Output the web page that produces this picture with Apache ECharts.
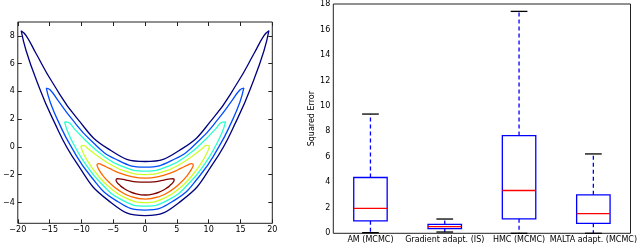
<!DOCTYPE html>
<html>
<head>
<meta charset="utf-8">
<script src="https://cdn.jsdelivr.net/npm/echarts@6/dist/echarts.min.js"></script>
<style>
html,body{margin:0;padding:0;background:#fff;}
#c{width:640px;height:246px;}
</style>
</head>
<body>
<div id="c"></div>
<script>
// ---------- Left panel: contour lines ----------
const contourColors = ['#00007f', '#004cff', '#29ffce', '#ceff29', '#ff6800', '#7f0000'];

const contour1 = [[-19.47,8.37],[-18.69,8.02],[-17.13,6.73],[-14.60,4.68],[-10.71,2.07],[-5.84,-0.12],[0,-1.05],[5.84,-0.12],[10.71,2.07],[14.60,4.68],[17.13,6.73],[18.69,8.02],[19.47,8.37],
  [18.69,6.93],[17.13,4.88],[14.60,2.11],[10.71,-1.19],[5.84,-3.83],[0,-4.95],[-5.84,-3.83],[-10.71,-1.19],[-14.60,2.11],[-17.13,4.88],[-18.69,6.93],[-19.47,8.37]];
const contour2 = [[-15.52,4.23],[-14.90,4.10],[-13.66,3.34],[-11.64,2.09],[-8.54,0.48],[-4.66,-0.87],[0,-1.45],[4.66,-0.87],[8.54,0.48],[11.64,2.09],[13.66,3.34],[14.90,4.10],[15.52,4.23],
  [14.90,3.22],[13.66,1.86],[11.64,0.04],[8.54,-2.11],[4.66,-3.83],[0,-4.55],[-4.66,-3.83],[-8.54,-2.11],[-11.64,0.04],[-13.66,1.86],[-14.90,3.22],[-15.52,4.23]];
const contour3 = [[-12.65,1.80],[-12.14,1.78],[-11.13,1.32],[-9.49,0.54],[-6.96,-0.49],[-3.80,-1.36],[0,-1.735],[3.80,-1.36],[6.96,-0.49],[9.49,0.54],[11.13,1.32],[12.14,1.78],[12.65,1.80],
  [12.14,1.07],[11.13,0.12],[9.49,-1.14],[6.96,-2.60],[3.80,-3.78],[0,-4.265],[-3.80,-3.78],[-6.96,-2.60],[-9.49,-1.14],[-11.13,0.12],[-12.14,1.07],[-12.65,1.80]];
const contour4 = [[-10.10,0.06],[-9.70,0.11],[-8.89,-0.15],[-7.58,-0.61],[-5.56,-1.23],[-3.03,-1.76],[0,-1.99],[3.03,-1.76],[5.56,-1.23],[7.58,-0.61],[8.89,-0.15],[9.70,0.11],[10.10,0.06],
  [9.70,-0.46],[8.89,-1.11],[7.58,-1.95],[5.56,-2.92],[3.03,-3.69],[0,-4.01],[-3.03,-3.69],[-5.56,-2.92],[-7.58,-1.95],[-8.89,-1.11],[-9.70,-0.46],[-10.10,0.06]];
const contour5 = [[-7.58,-1.275],[-7.28,-1.20],[-6.67,-1.31],[-5.69,-1.53],[-4.17,-1.85],[-2.27,-2.12],[0,-2.24],[2.27,-2.12],[4.17,-1.85],[5.69,-1.53],[6.67,-1.31],[7.28,-1.20],[7.58,-1.275],
  [7.28,-1.62],[6.67,-2.03],[5.69,-2.53],[4.17,-3.11],[2.27,-3.57],[0,-3.76],[-2.27,-3.57],[-4.17,-3.11],[-5.69,-2.53],[-6.67,-2.03],[-7.28,-1.62],[-7.58,-1.275]];
const contour6 = [[-4.58,-2.37],[-4.40,-2.29],[-4.03,-2.30],[-3.44,-2.34],[-2.52,-2.43],[-1.37,-2.51],[0,-2.54],[1.37,-2.51],[2.52,-2.43],[3.44,-2.34],[4.03,-2.30],[4.40,-2.29],[4.58,-2.37],
  [4.40,-2.55],[4.03,-2.73],[3.44,-2.95],[2.52,-3.19],[1.37,-3.38],[0,-3.46],[-1.37,-3.38],[-2.52,-3.19],[-3.44,-2.95],[-4.03,-2.73],[-4.40,-2.55],[-4.58,-2.37]];
const contours = [contour1, contour2, contour3, contour4, contour5, contour6];

const leftXTicks = [-20, -15, -10, -5, 0, 5, 10, 15, 20];
const leftYTicks = [-4, -2, 0, 2, 4, 6, 8];

// ---------- Right panel: box plot ----------
const categories = ['AM (MCMC)', 'Gradient adapt. (IS)', 'HMC (MCMC)', 'MALTA adapt. (MCMC)'];
const whiskerLow  = [0.05, 0.10, 0.00, 0.00];
const q1Values    = [0.98, 0.36, 1.14, 0.78];
const medians     = [1.96, 0.52, 3.36, 1.54];
const q3Values    = [4.38, 0.70, 7.67, 3.02];
const whiskerHigh = [9.36, 1.12, 17.42, 6.23];
const rightYTicks = [0, 2, 4, 6, 8, 10, 12, 14, 16, 18];

const FONT = 'DejaVu Sans';
const minus = v => String(v).replace('-', '\u2212');
const axisLineStyle = { show: false, onZero: false };
const tickStyle = { inside: true, length: 4, lineStyle: { color: '#222', width: 1 } };
const labelStyle = { fontFamily: FONT, fontSize: 8, color: '#000' };
const gridBox = { show: true, borderColor: '#222', borderWidth: 1, backgroundColor: 'transparent' };

const boxData = categories.map((c, i) => [i, whiskerLow[i], q1Values[i], medians[i], q3Values[i], whiskerHigh[i]]);

const chart = echarts.init(document.getElementById('c'), null, { renderer: 'canvas' });
chart.setOption({
  animation: false,
  backgroundColor: '#fff',
  grid: [
    Object.assign({ left: 11.5, top: 22, width: 260.8, height: 201.3 }, gridBox),
    Object.assign({ left: 333.3, top: 3.3, width: 297.7, height: 230 }, gridBox)
  ],
  xAxis: [
    { gridIndex: 0, type: 'value', min: -20, max: 20, interval: 5, position: 'bottom',
      axisLine: axisLineStyle, axisTick: tickStyle, splitLine: { show: false },
      axisLabel: Object.assign({ margin: 3, formatter: minus }, labelStyle) },
    { gridIndex: 0, type: 'value', min: -20, max: 20, interval: 5, position: 'top',
      axisLine: axisLineStyle, axisTick: tickStyle, splitLine: { show: false }, axisLabel: { show: false } },
    { gridIndex: 1, type: 'category', data: categories, position: 'bottom',
      axisLine: axisLineStyle, axisTick: Object.assign({ alignWithLabel: true }, tickStyle),
      axisLabel: Object.assign({ margin: 3, interval: 0 }, labelStyle) },
    { gridIndex: 1, type: 'category', data: categories, position: 'top',
      axisLine: axisLineStyle, axisTick: Object.assign({ alignWithLabel: true }, tickStyle),
      axisLabel: { show: false } }
  ],
  yAxis: [
    { gridIndex: 0, type: 'value', min: -5.5, max: 9, position: 'left',
      axisLine: axisLineStyle, splitLine: { show: false },
      axisTick: Object.assign({ customValues: leftYTicks }, tickStyle),
      axisLabel: Object.assign({ margin: 3, customValues: leftYTicks, formatter: minus }, labelStyle) },
    { gridIndex: 0, type: 'value', min: -5.5, max: 9, position: 'right',
      axisLine: axisLineStyle, splitLine: { show: false },
      axisTick: Object.assign({ customValues: leftYTicks }, tickStyle),
      axisLabel: { show: false } },
    { gridIndex: 1, type: 'value', min: 0, max: 18, interval: 2, position: 'left',
      axisLine: axisLineStyle, axisTick: tickStyle, splitLine: { show: false },
      axisLabel: Object.assign({ margin: 3 }, labelStyle),
      name: 'Squared Error', nameLocation: 'middle', nameGap: 16,
      nameTextStyle: { fontFamily: FONT, fontSize: 8, color: '#000' } },
    { gridIndex: 1, type: 'value', min: 0, max: 18, interval: 2, position: 'right',
      axisLine: axisLineStyle, axisTick: tickStyle, splitLine: { show: false },
      axisLabel: { show: false } }
  ],
  series: contours.map((pts, k) => ({
    type: 'line', xAxisIndex: 0, yAxisIndex: 0, data: pts, smooth: 0.5,
    showSymbol: false, symbol: 'none',
    lineStyle: { color: contourColors[k], width: 1.3 }
  })).concat([{
    type: 'custom', xAxisIndex: 2, yAxisIndex: 2, data: boxData,
    renderItem: function (params, api) {
      const i = api.value(0);
      const lo = api.coord([i, api.value(1)]);
      const q1 = api.coord([i, api.value(2)]);
      const md = api.coord([i, api.value(3)]);
      const q3 = api.coord([i, api.value(4)]);
      const hi = api.coord([i, api.value(5)]);
      const bw = api.size([1, 0])[0] * 0.45;
      const cw = bw / 2;
      const x = q1[0];
      const blue = '#0000ff';
      return { type: 'group', children: [
        { type: 'line', shape: { x1: x, y1: q3[1], x2: x, y2: hi[1] }, style: { stroke: blue, lineWidth: 1.3, lineDash: [4, 3] } },
        { type: 'line', shape: { x1: x, y1: q1[1], x2: x, y2: lo[1] }, style: { stroke: blue, lineWidth: 1.3, lineDash: [4, 3] } },
        { type: 'line', shape: { x1: x - cw / 2, y1: hi[1], x2: x + cw / 2, y2: hi[1] }, style: { stroke: '#000', lineWidth: 1.3 } },
        { type: 'line', shape: { x1: x - cw / 2, y1: lo[1], x2: x + cw / 2, y2: lo[1] }, style: { stroke: '#000', lineWidth: 1.3 } },
        { type: 'rect', shape: { x: x - bw / 2, y: q3[1], width: bw, height: q1[1] - q3[1] }, style: { stroke: blue, fill: 'none', lineWidth: 1.3 } },
        { type: 'line', shape: { x1: x - bw / 2, y1: md[1], x2: x + bw / 2, y2: md[1] }, style: { stroke: '#ff0000', lineWidth: 1.3 } }
      ]};
    }
  }])
});
</script>
</body>
</html>
